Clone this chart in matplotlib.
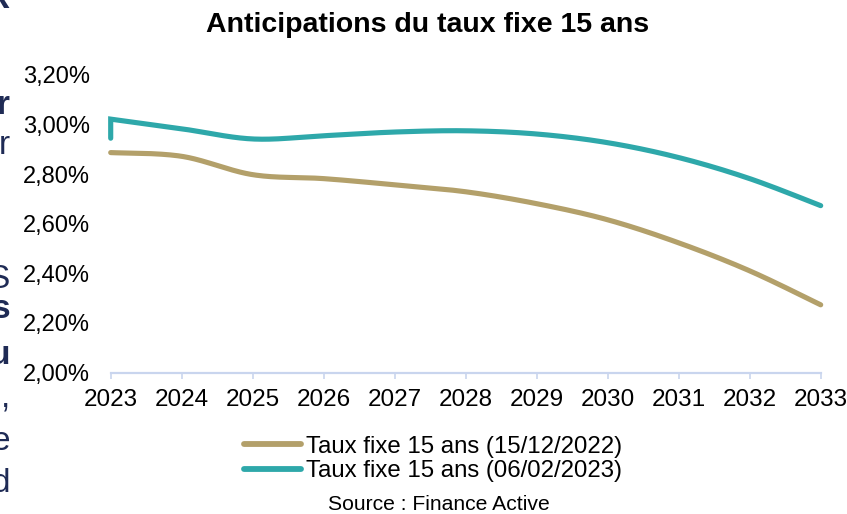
import numpy as np
import matplotlib
matplotlib.use("Agg")
import matplotlib.pyplot as plt
from matplotlib.ticker import FuncFormatter

plt.rcParams['font.family'] = ['Liberation Sans', 'DejaVu Sans']

# ---- data ----
years_dec = [2023, 2024, 2025, 2026, 2027, 2028, 2029, 2030, 2031, 2032, 2033]
rate_dec = [2.887, 2.872, 2.798, 2.782, 2.757, 2.729, 2.681, 2.616, 2.523, 2.410, 2.273]

years_feb = [2023, 2023, 2024, 2025, 2026, 2027, 2028, 2029, 2030, 2031, 2032, 2033]
rate_feb = [2.945, 3.022, 2.983, 2.942, 2.955, 2.970, 2.975, 2.962, 2.927, 2.867, 2.782, 2.673]

label_dec = "Taux fixe 15 ans (15/12/2022)"
label_feb = "Taux fixe 15 ans (06/02/2023)"
title = "Anticipations du taux fixe 15 ans"
source = "Source : Finance Active"
xticks = list(range(2023, 2034))
yticks = [2.0, 2.2, 2.4, 2.6, 2.8, 3.0, 3.2]

col_dec = "#B3A06A"
col_feb = "#2EA8AA"
axis_col = "#C9D5EE"
navy = "#1F2B55"


def smooth(xs, ys, n=40):
    """Catmull-Rom smoothing (like Excel's smoothed lines); a repeated x gives a straight jump."""
    xs = list(xs)
    ys = list(ys)
    pre_x, pre_y = [], []
    while len(xs) > 2 and xs[0] == xs[1]:
        pre_x.append(xs.pop(0))
        pre_y.append(ys.pop(0))
    p = np.column_stack([xs, ys]).astype(float)
    p = np.vstack([p[0], p, p[-1]])
    out = []
    for i in range(1, len(p) - 2):
        p0, p1, p2, p3 = p[i - 1], p[i], p[i + 1], p[i + 2]
        t = np.linspace(0, 1, n)[:, None]
        seg = 0.5 * ((2 * p1) + (-p0 + p2) * t + (2 * p0 - 5 * p1 + 4 * p2 - p3) * t ** 2
                     + (-p0 + 3 * p1 - 3 * p2 + p3) * t ** 3)
        out.append(seg if i == 1 else seg[1:])
    out = np.vstack(out)
    return np.concatenate([pre_x, out[:, 0]]), np.concatenate([pre_y, out[:, 1]])


W, H = 847, 514
fig = plt.figure(figsize=(W / 100, H / 100), dpi=100)
left, right, top, bottom = 110.7, 820.7, 75, 372.5
ax = fig.add_axes([left / W, 1 - bottom / H, (right - left) / W, (bottom - top) / H])

for xs, ys, c, lab in [(years_dec, rate_dec, col_dec, label_dec),
                       (years_feb, rate_feb, col_feb, label_feb)]:
    sx, sy = smooth(xs, ys)
    ax.plot(sx, sy, color=c, lw=3.7, solid_capstyle='round', solid_joinstyle='miter',
            clip_on=False, label=lab)

ax.set_xlim(2023, 2033)
ax.set_ylim(2.0, 3.2)
ax.set_xticks(xticks)
ax.set_xticklabels([str(y) for y in xticks])
ax.set_yticks(yticks)
ax.yaxis.set_major_formatter(FuncFormatter(lambda v, p: f"{v:.2f}%".replace('.', ',')))

for s in ['top', 'right', 'left']:
    ax.spines[s].set_visible(False)
ax.spines['bottom'].set_color(axis_col)
ax.spines['bottom'].set_linewidth(1.6)
ax.tick_params(axis='x', direction='out', length=4.2, width=1.2, color=axis_col,
               labelsize=17.5, pad=7.5)
ax.tick_params(axis='y', length=0, labelsize=17, pad=15)

fig.text(427.5 / W, 1 - 32 / H, title, ha='center', va='baseline',
         fontsize=20.5, fontweight='bold')

leg = fig.legend(loc='center', bbox_to_anchor=(433 / W, 1 - 459 / H), frameon=False,
                 fontsize=17.3, handlelength=2.35, handletextpad=0.2, labelspacing=0.1,
                 borderpad=0, borderaxespad=0)
for h in leg.legend_handles:
    h.set_linewidth(4.2)
    h.set_solid_capstyle('round')

fig.text(438.5 / W, 1 - 504.5 / H, source, ha='center', va='center', fontsize=15.2)

# fragments of neighbouring text cut by the screenshot's left edge
frags = [("R", 0, 'bold'), ("r", 106, 'bold'), ("r", 146, 'normal'), ("S", 279, 'normal'),
         ("s", 310, 'bold'), ("u", 356, 'bold'), (",", 398, 'normal'), ("e", 441, 'normal'),
         ("d", 483, 'normal')]
for ch, yc, wt in frags:
    fig.text(10 / W, 1 - yc / H, ch, ha='right', va='center', fontsize=24,
             fontweight=wt, color=navy)

fig.savefig("out.png", dpi=100)
